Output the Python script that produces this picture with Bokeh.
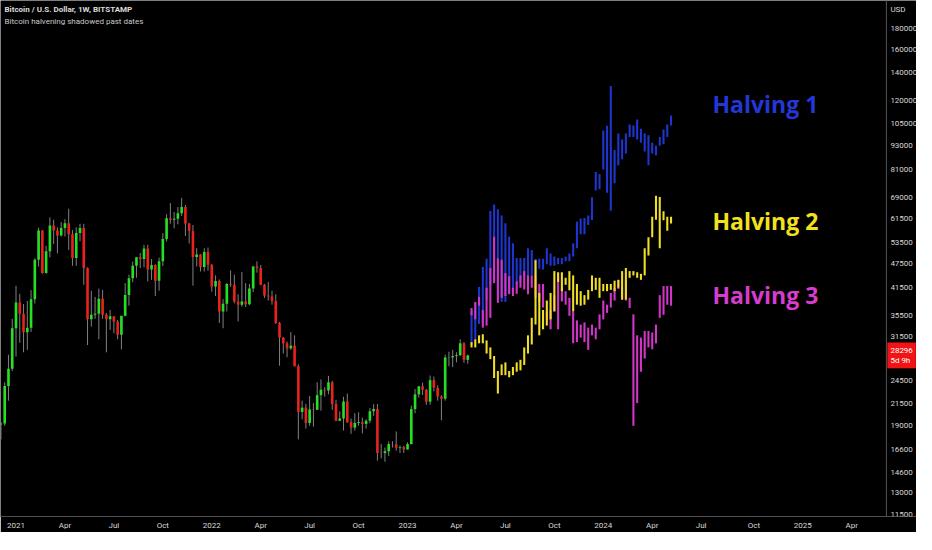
import numpy as np

from bokeh.plotting import figure
from bokeh.models import ColumnDataSource, FixedTicker, Label, Range1d, NumeralTickFormatter, Span
from bokeh.core.properties import value
from bokeh.embed import file_html
from bokeh.resources import INLINE

# Weekly BTC/USD candles (Bitstamp). Week index 0 = week of 2021-01-04,
# first bar is the week of 2020-12-07
first_bar = -4
opens = [19150, 19250, 23800, 26250,
         33000, 38150, 35800, 32250, 33100, 38900, 48600, 57400, 45100, 51000,
         59000, 57350, 55800, 58200, 59800, 56200, 49100, 56600, 58200, 46400,
         34700, 35600, 35800, 39000, 35600, 34700, 35300, 34250, 31800, 35400,
         39850, 43800, 47000, 49300, 48800, 51800, 46000, 47200, 43200, 48200,
         54700, 61500, 61000, 61300, 63300, 65500, 59700, 57200, 49400, 50100,
         46700, 50800,
         47300, 41800, 43100, 36300, 37900, 42400, 42200, 38400, 37700, 38400,
         37800, 41300, 46800, 46400, 42200, 39700, 39500, 38500, 34000, 31300,
         30300, 29450, 29900, 26600, 20550, 21050, 19300, 20850, 20800, 22600,
         23300, 23200, 24300, 21500, 19550, 19800, 21800, 19400, 18800, 19300,
         19400, 19200, 19550, 20630, 20900, 16300, 16280, 16450, 17130, 17100,
         16780, 16840,
         16620, 17130, 20880, 22700, 23750, 23300, 21780, 24600, 23560, 22430,
         22150, 27960, 27990, 28190, 28330, 30300, 27590]
highs = [19400, 24300, 28400, 34800,
         41950, 40100, 37850, 38500, 40950, 49000, 58300, 57500, 52600, 61800,
         61000, 58400, 60200, 61200, 64900, 57500, 58400, 59600, 59600, 46600,
         40800, 39400, 41300, 41000, 36000, 36600, 35300, 34600, 35400, 42600,
         44700, 48100, 49300, 50500, 52900, 52900, 48800, 47400, 49200, 56500,
         62900, 67000, 63700, 65500, 69000, 66300, 59900, 59200, 51900, 50200,
         51900, 52100,
         47500, 44500, 43500, 38900, 42600, 45800, 44700, 40000, 45400, 42600,
         42400, 46900, 48200, 47200, 42400, 42900, 40800, 40000, 34200, 31400,
         30600, 32300, 31700, 26900, 21900, 21500, 22500, 21600, 24300, 24700,
         23650, 25200, 24500, 22000, 20600, 22400, 22800, 19800, 20400, 20500,
         19900, 19700, 21000, 21470, 21500, 17150, 16800, 17400, 17400, 18400,
         17000, 16950,
         17300, 21300, 23400, 23800, 24250, 23400, 25250, 25100, 23900, 22600,
         28400, 28900, 29200, 28800, 31000, 30500, 28400]
lows = [17600, 19000, 21900, 25900,
        28100, 30400, 28800, 29200, 32300, 37950, 46800, 44900, 44950, 49300,
        53200, 50400, 55500, 55500, 51400, 47000, 47000, 54000, 42200, 30000,
        33300, 34800, 31000, 34800, 28800, 32700, 32100, 31000, 29300, 35300,
        37500, 42800, 43900, 46400, 46600, 43000, 43400, 39600, 40800, 46900,
        53900, 59600, 58100, 59400, 62300, 55600, 53300, 42000, 46800, 45500,
        45500, 45700,
        40600, 39600, 34000, 33000, 36300, 41700, 38000, 34300, 37300, 37200,
        37600, 40500, 45200, 42100, 39200, 38600, 37700, 33800, 26700, 28600,
        28000, 29200, 26600, 17600, 19700, 18700, 19000, 18900, 20800, 20700,
        22400, 22700, 20800, 19500, 19500, 18500, 19300, 18150, 18500, 19000,
        18200, 18700, 19300, 20100, 15600, 15800, 15500, 16000, 16800, 16500,
        16300, 16300,
        16600, 17100, 20400, 22300, 22600, 21400, 21400, 23100, 21900, 19600,
        21900, 26600, 26500, 27200, 28200, 27130, 27000]
closes = [19250, 23800, 26250, 33000,
          38150, 35800, 32250, 33100, 38900, 48600, 57400, 45100, 51000, 59000,
          57350, 55800, 58200, 59800, 56200, 49100, 56600, 58200, 46400, 34700,
          35600, 35800, 39000, 35600, 34700, 35300, 34250, 31800, 35400, 39850,
          43800, 47000, 49300, 48800, 51800, 46000, 47200, 43200, 48200, 54700,
          61500, 61000, 61300, 63300, 65500, 59700, 57200, 49400, 50100, 46700,
          50800, 47300,
          41800, 43100, 36300, 37900, 42400, 42200, 38400, 37700, 38400, 37800,
          41300, 46800, 46400, 42200, 39700, 39500, 38500, 34000, 31300, 30300,
          29450, 29900, 26600, 20550, 21050, 19300, 20850, 20800, 22600, 23300,
          23200, 24300, 21500, 19550, 19800, 21800, 19400, 18800, 19300, 19400,
          19200, 19550, 20630, 20900, 16300, 16280, 16450, 17130, 17100, 16780,
          16840, 16620,
          17130, 20880, 22700, 23750, 23300, 21780, 24600, 23560, 22430, 22150,
          27960, 27990, 28190, 28330, 30300, 27590, 28296]

# Halving shadows: weekly high/low ranges, first bar = week of 2023-05-01
shadow_start = 121
h1_high = [36500, 38000, 41700, 46700, 48900, 64100, 66500, 64700, 62500, 59800,
           55400, 53400, 49100, 49100, 49100, 51900, 51400, 48900, 48900, 48900,
           51900, 50400, 49500, 49100, 49100, 49500, 50400, 53400, 60300, 61400,
           61600, 62500, 69300, 79900, 79000, 101000, 103800, 130000, 90500, 99300,
           96100, 99300, 104600, 104000, 107500, 102000, 99300, 98400, 94300, 92700,
           97400, 101600, 104600, 110000]
h1_low = [30000, 31000, 33800, 34000, 38700, 42300, 43200, 38900, 38300, 38300,
          40300, 41300, 42300, 42700, 44100, 44100, 44500, 44500, 46200, 46000,
          47400, 47000, 47000, 47400, 47400, 48200, 48200, 49500, 51900, 56200,
          56200, 59200, 60900, 72000, 72500, 81000, 71000, 64200, 75000, 83000,
          85900, 88700, 97400, 97400, 96000, 94300, 89700, 83000, 88700, 87900,
          92700, 93500, 97400, 104000]
h2_high = [30500, 31000, 31700, 31900, 30800, 29600, 28200, 25900, 26900, 27200,
           25900, 26500, 27200, 27600, 29600, 31700, 35000, 48500, 40300, 36600,
           38600, 40300, 45600, 45300, 45300, 43900, 45600, 44500, 42400, 40700,
           39800, 41000, 44500, 43900, 43900, 42400, 42400, 42400, 43200, 43400,
           45600, 46400, 45600, 45600, 45300, 44900, 51900, 55200, 62000, 69800,
           69400, 64000, 62000, 62000]
h2_low = [29600, 29600, 30300, 30300, 28600, 27700, 24900, 22800, 25300, 25300,
          25000, 25300, 25800, 26000, 26800, 28600, 30100, 33700, 31700, 32800,
          33500, 34700, 36300, 42900, 40700, 42200, 40900, 36300, 37700, 37500,
          37700, 38800, 40700, 41000, 39200, 40700, 40700, 41000, 40700, 41500,
          38800, 38800, 43900, 44500, 43900, 43400, 44500, 49800, 55200, 61000,
          51900, 60800, 57300, 59700]
h3_high = [37000, 38300, 39400, 36600, 41500, 46400, 55400, 49000, 48600, 45100,
           44300, 41500, 43000, 44500, 45600, 44500, 44500, 44500, 42400, 42400,
           36300, 36600, 39800, 43900, 41500, 40700, 39200, 36300, 34500, 33700,
           34100, 33100, 33700, 33100, 35700, 38600, 37700, 40300, 41500, 43400,
           41500, 43400, 39200, 35700, 31700, 31300, 32500, 32500, 32200, 33700,
           39800, 41900, 41900, 41900]
h3_low = [35500, 34700, 37500, 33100, 33500, 35000, 42600, 38100, 39200, 39600,
          40000, 39600, 40100, 41500, 41100, 40000, 41500, 39200, 38400, 37100,
          34600, 32800, 36300, 32800, 38400, 37700, 35400, 30300, 30500, 31300,
          30500, 29200, 31700, 31000, 32800, 34700, 36000, 37100, 38600, 41200,
          38800, 38600, 37000, 19000, 21600, 25800, 27800, 29600, 29300, 30300,
          35000, 35600, 37700, 37500]

halving_names = ["Halving 1", "Halving 2", "Halving 3"]
halving_colors = ["#2437d6", "#f2e21e", "#d83ccf"]
bar_colors = ["#1f35d0", "#f0df26", "#d236c9"]

# time axis: first weekly bar of each quarter
tick_weeks = [0, 13, 26, 39, 52, 65, 78, 91, 104, 117, 130, 143, 156, 169,
              182, 196, 209, 222]
tick_names = ["2021", "Apr", "Jul", "Oct", "2022", "Apr", "Jul", "Oct", "2023",
              "Apr", "Jul", "Oct", "2024", "Apr", "Jul", "Oct", "2025", "Apr"]

price_ticks = [11500, 13000, 14600, 16600, 19000, 21500, 24500, 31500, 35500,
               41500, 47500, 53500, 61500, 69000, 81000, 93000, 105000, 120000,
               140000, 160000, 180000]
last_price = 28296
time_left = "5d 9h"

GREEN = "#26e024"
RED = "#e8221c"
WICK = "#808080"
SCALE_LINE = "#4e4e4e"

# week index where the price scale sits (drawn inside the frame, TradingView style)
scale_week = 231.2

x = np.arange(len(opens)) + first_bar
o = np.array(opens)
c = np.array(closes)
candles = ColumnDataSource(dict(
    x=x, top=np.maximum(o, c), bottom=np.minimum(o, c),
    high=highs, low=lows,
    color=np.where(c >= o, GREEN, RED),
))

p = figure(
    frame_width=916, frame_height=516,
    x_range=Range1d(-4.12, 239.2),
    y_range=Range1d(11370, 210900),
    y_axis_type="log", y_axis_location="right",
    output_backend="svg", toolbar_location=None,
    background_fill_color="black", border_fill_color="black",
    outline_line_color=None, min_border=0,
)
p.grid.visible = False

# candles
p.segment(x0="x", y0="low", x1="x", y1="high", source=candles,
          line_color=WICK, line_width=1)
p.vbar(x="x", top="top", bottom="bottom", width=0.7, source=candles,
       fill_color="color", line_color=None)

# halving shadows (blue, magenta, yellow on top)
sx = np.arange(len(h1_high)) + shadow_start
for hi, lo, col in [(h1_high, h1_low, bar_colors[0]),
                    (h3_high, h3_low, bar_colors[2]),
                    (h2_high, h2_low, bar_colors[1])]:
    p.vbar(x=sx, top=hi, bottom=lo, width=0.55, fill_color=col, line_color=None)

label_src = ColumnDataSource(dict(
    x=[185, 185, 185], y=[117600, 60700, 39900],
    text=halving_names, color=halving_colors,
))
p.text(x="x", y="y", text="text", text_color="color", source=label_src,
       text_font=value("Open Sans"), text_font_style="bold",
       text_font_size="23px", text_baseline="middle")

# axes
for ax in (p.xaxis[0], p.yaxis[0]):
    ax.axis_line_color = SCALE_LINE
    ax.major_tick_line_color = None
    ax.minor_tick_line_color = None
    ax.major_tick_out = 0
    ax.major_label_text_color = "#d8d8d8"
    ax.major_label_text_font = "Roboto"
    ax.major_label_text_font_size = "8px"

p.xaxis.ticker = FixedTicker(ticks=tick_weeks)
p.xaxis.major_label_overrides = dict(zip(tick_weeks, tick_names))
p.xaxis.major_label_standoff = 4

p.yaxis.fixed_location = scale_week
p.yaxis.ticker = FixedTicker(ticks=price_ticks)
p.yaxis.formatter = NumeralTickFormatter(format="0")
p.yaxis.major_label_standoff = 4

# separator between the chart and the price scale
p.add_layout(Span(location=scale_week, dimension="height",
                  line_color=SCALE_LINE, line_width=1))

# header text, currency and last price tag
p.add_layout(Label(x=4, y=512, x_units="screen", y_units="screen",
                   text="Bitcoin / U.S. Dollar, 1W, BITSTAMP",
                   text_color="#dcdcdc", text_font="Roboto",
                   text_font_style="bold", text_font_size="8px",
                   text_baseline="top"))
p.add_layout(Label(x=4, y=500, x_units="screen", y_units="screen",
                   text="Bitcoin halvening shadowed past dates",
                   text_color="#c8c8c8", text_font="Roboto",
                   text_font_size="8px", text_baseline="top"))
p.add_layout(Label(x=scale_week, y=512, x_offset=4, y_units="screen",
                   text="USD", text_color="#d8d8d8", text_font="Roboto",
                   text_font_size="8px", text_baseline="top"))
p.add_layout(Label(x=scale_week, y=last_price, x_offset=1,
                   text=f"{last_price}\n{time_left}", text_color="white",
                   text_font="Roboto", text_font_size="8px",
                   text_baseline="middle", background_fill_color="#f01414",
                   padding=3))

open("out.html", "w").write(file_html(p, INLINE))
